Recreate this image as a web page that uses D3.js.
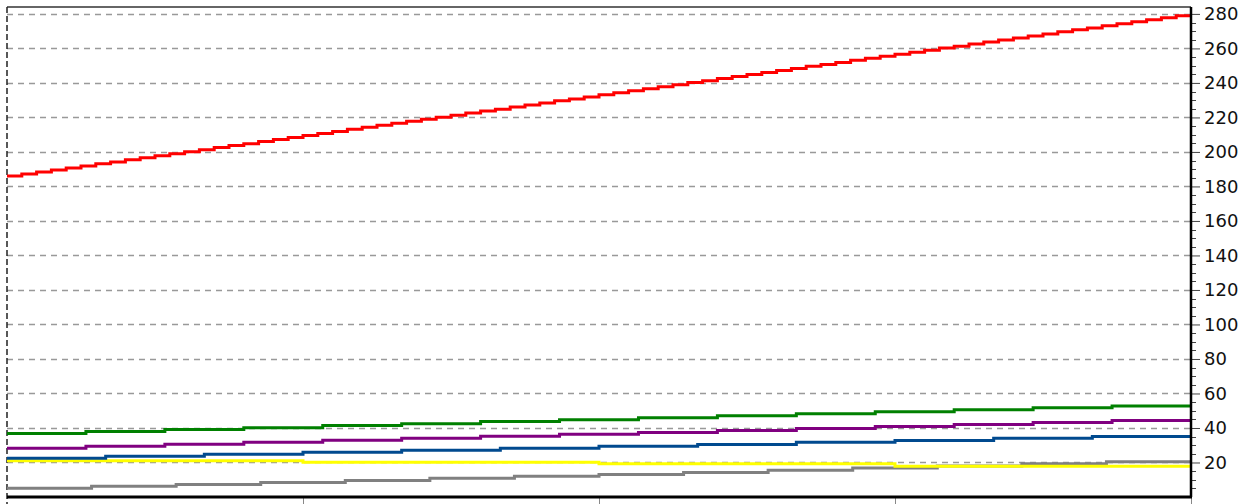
<!DOCTYPE html>
<html>
<head>
<meta charset="utf-8">
<script src="https://cdn.jsdelivr.net/npm/d3@7"></script>
<style>
  body { margin: 0; background: #fff; }
  svg { display: block; }
</style>
</head>
<body>
<div id="chart"></div>
<script>
// values, each series is a step line spread over the full width
var redValues = [
  186.0, 187.2, 188.4, 189.5, 190.7, 191.9, 193.1, 194.2, 195.4, 196.6,
  197.8, 198.9, 200.1, 201.3, 202.5, 203.7, 204.8, 206.0, 207.2, 208.4,
  209.5, 210.7, 211.9, 213.1, 214.3, 215.4, 216.6, 217.8, 219.0, 220.1,
  221.3, 222.5, 223.7, 224.8, 226.0, 227.2, 228.4, 229.6, 230.7, 231.9,
  233.1, 234.3, 235.4, 236.6, 237.8, 239.0, 240.2, 241.3, 242.5, 243.7,
  244.9, 246.0, 247.2, 248.4, 249.6, 250.7, 251.9, 253.1, 254.3, 255.5,
  256.6, 257.8, 259.0, 260.2, 261.3, 262.5, 263.7, 264.9, 266.1, 267.2,
  268.4, 269.6, 270.8, 271.9, 273.1, 274.3, 275.5, 276.6, 277.8, 279.0
];
var greenValues = [36.8, 37.9, 39.1, 40.2, 41.4, 42.5, 43.7, 44.8, 45.9, 47.1, 48.2, 49.4, 50.5, 51.7, 52.8];
var purpleValues = [28.3, 29.4, 30.6, 31.7, 32.9, 34.0, 35.2, 36.3, 37.4, 38.6, 39.7, 40.9, 42.0, 43.2, 44.3];
var blueValues = [22.5, 23.6, 24.8, 25.9, 27.1, 28.2, 29.4, 30.5, 31.7, 32.8, 34.0, 35.1];
var yellowValues = [21.0, 20.2, 19.2, 17.8];
var grayValues = [5.1, 6.2, 7.3, 8.4, 9.6, 10.8, 12.0, 13.0, 14.2, 15.5, 16.8, 18.0, 19.2, 20.4];

var yTicks = [20, 40, 60, 80, 100, 120, 140, 160, 180, 200, 220, 240, 260, 280];
var xTicks = [0.25, 0.5, 0.75, 1];

// drawing order: first is at the back
var series = [
  {values: grayValues, color: "#808080"},
  {values: yellowValues, color: "#ffff00"},
  {values: blueValues, color: "#004a8f"},
  {values: purpleValues, color: "#800080"},
  {values: greenValues, color: "#008000"},
  {values: redValues, color: "#ff0000"}
];

var W = 1249, H = 504;
var plotLeft = 7, plotRight = 1191, plotTop = 7, plotBottom = 497;

var svg = d3.select("#chart").append("svg")
  .attr("width", W)
  .attr("height", H);

var x = d3.scaleLinear().domain([0, 1]).range([plotLeft, plotRight]);
var y = d3.scaleLinear().domain([0, 284]).range([plotBottom, plotTop]);

// dashed grid
svg.append("g")
  .selectAll("line")
  .data(yTicks)
  .enter().append("line")
    .attr("x1", plotLeft).attr("x2", plotRight)
    .attr("y1", function(d) { return Math.round(y(d)) + 0.5; })
    .attr("y2", function(d) { return Math.round(y(d)) + 0.5; })
    .attr("stroke", "#999")
    .attr("stroke-width", 1.5)
    .attr("stroke-dasharray", "6,5");

// top and left frame
svg.append("line")
  .attr("x1", plotLeft).attr("x2", plotRight).attr("y1", plotTop).attr("y2", plotTop)
  .attr("stroke", "#333").attr("stroke-width", 1.5);
svg.append("line")
  .attr("x1", plotLeft).attr("x2", plotLeft).attr("y1", plotTop).attr("y2", H)
  .attr("stroke", "#222").attr("stroke-width", 1.5)
  .attr("stroke-dasharray", "6,3");

// step lines
var line = d3.line()
  .x(function(d) { return x(d[0]); })
  .y(function(d) { return y(d[1]); })
  .curve(d3.curveStepAfter);

series.forEach(function(s) {
  var n = s.values.length;
  var pts = s.values.map(function(v, i) { return [i / n, v]; });
  pts.push([1, s.values[n - 1]]);
  svg.append("path")
    .datum(pts)
    .attr("fill", "none")
    .attr("stroke", s.color)
    .attr("stroke-width", 3)
    .attr("d", line);
});

// right axis: major ticks with labels, minor ticks every 5
var yAxis = d3.axisRight(y)
  .tickValues(yTicks)
  .tickSize(9)
  .tickPadding(4)
  .tickFormat(d3.format("d"));
var ya = svg.append("g")
  .attr("transform", "translate(" + plotRight + ",0)")
  .call(yAxis);
ya.select(".domain").remove();
ya.selectAll(".tick line").attr("stroke", "#444");
ya.selectAll(".tick text")
  .attr("font-family", "DejaVu Sans")
  .attr("font-size", 18)
  .attr("fill", "#111");

var minor = d3.range(5, 284, 5).filter(function(d) { return d % 20 !== 0; });
svg.append("g")
  .selectAll("line")
  .data(minor)
  .enter().append("line")
    .attr("x1", plotRight).attr("x2", plotRight + 5)
    .attr("y1", function(d) { return Math.round(y(d)) + 0.5; })
    .attr("y2", function(d) { return Math.round(y(d)) + 0.5; })
    .attr("stroke", "#444");

svg.append("line")
  .attr("x1", plotRight).attr("x2", plotRight).attr("y1", plotTop).attr("y2", plotBottom)
  .attr("stroke", "#000").attr("stroke-width", 2.5);

// bottom axis
var xAxis = d3.axisBottom(x)
  .tickValues(xTicks)
  .tickSize(8)
  .tickFormat("");
var xa = svg.append("g")
  .attr("transform", "translate(0," + plotBottom + ")")
  .call(xAxis);
xa.select(".domain").remove();
xa.selectAll(".tick line").attr("stroke", "#888");

svg.append("line")
  .attr("x1", plotLeft).attr("x2", plotRight + 1).attr("y1", plotBottom).attr("y2", plotBottom)
  .attr("stroke", "#000").attr("stroke-width", 3);
</script>
</body>
</html>
